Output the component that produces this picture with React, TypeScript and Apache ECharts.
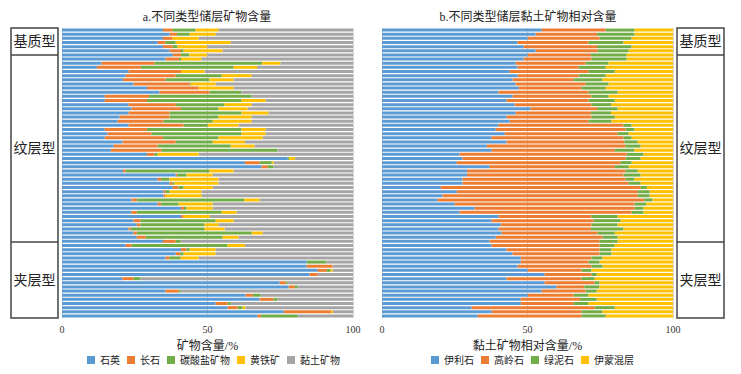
import React, { useEffect, useRef } from "react";
import * as echarts from "echarts";

// Panel a: mineral content (%) per sample, top to bottom
const quartz = [34.7,37.0,34.7,32.9,34.7,37.0,38.1,35.6,13.6,12.0,22.9,21.9,21.0,24.6,29.2,33.5,14.7,14.7,22.9,23.9,22.9,19.8,19.1,22.9,14.7,15.7,14.7,20.8,17.8,16.8,29.2,77.6,62.9,68.6,21.0,39.1,32.9,37.0,38.1,34.9,34.9,23.9,32.9,40.9,23.9,40.9,24.6,25.7,22.9,24.6,25.7,34.7,21.9,40.9,39.1,35.6,84.1,84.1,87.9,85.1,20.8,74.8,77.9,35.6,63.1,67.9,52.8,56.9,76.2,67.2];
const feldspar = [3.3,2.5,3.3,2.7,3.4,3.9,2.8,4.6,18.2,15.1,18.0,17.2,14.6,19.3,17.8,17.2,15.2,14.5,16.2,17.0,14.1,17.2,15.8,18.9,14.5,15.1,20.0,18.3,15.1,17.4,2.6,0,5.0,2.1,0.9,0.5,1.1,1.0,1.9,0.7,0.7,1.8,1.1,1.0,1.8,0.9,2.4,1.3,0.7,1.1,3.1,4.4,2.0,1.9,1.5,1.4,0,8.9,3.1,2.8,3.8,2.1,2.1,4.5,2.5,4.8,4.1,3.5,16.2,1.2];
const carbonate = [7.9,4.4,0,3.5,1.6,0.9,2.9,0.7,37.0,31.9,0,15.8,15.1,0.4,0,10.9,35.3,32.5,16.8,12.9,24.7,16.8,16.9,8.3,32.5,30.9,19.1,12.7,25.1,39.9,1.1,0.5,4.2,2.0,28.8,3.2,3.0,0.7,1.8,1.4,0,37.0,6.1,0.9,29.2,0,25.8,22.0,25.4,39.5,26.4,1.7,33.0,1.1,1.2,3.8,6.7,0,1.3,0,2.4,0.5,1.0,0.7,2.7,1.4,1.1,1.7,0,12.6];
const pyrite = [7.9,8.9,9.0,18.9,10.2,13.4,6.1,7.1,6.3,8.0,8.1,10.3,8.3,8.5,12.0,0,0,8.3,9.3,10.0,9.3,11.4,13.4,10.6,8.3,8.3,15.2,11.1,8.2,0,14.1,2.0,0.6,0,8.3,9.0,16.8,15.1,10.0,11.0,12.4,5.2,11.7,9.0,5.1,9.0,6.2,4.8,6.9,3.8,5.5,0,6.0,8.9,11.0,6.2,0,0,0.7,0,0,0,0,0,0,0,0,1.0,0.7,0];
const clay = [46.2,47.2,53.0,42.0,50.1,44.8,50.1,52.0,24.9,33.0,51.0,34.8,41.0,47.2,41.0,38.4,34.8,30.0,34.8,36.2,29.0,34.8,34.8,39.3,30.0,30.0,31.0,37.1,33.8,25.9,53.0,19.9,27.3,27.3,41.0,48.2,46.2,46.2,48.2,52.0,52.0,32.1,48.2,48.2,40.0,49.2,41.0,46.2,44.1,31.0,39.3,59.2,37.1,47.2,47.2,53.0,9.2,7.0,7.0,12.1,73.0,22.6,19.0,59.2,31.7,25.9,42.0,36.9,6.9,19.0];

// Panel b: relative clay mineral content (%)
const illite = [54.9,52.8,50.1,46.6,48.7,52.8,50.1,48.7,45.9,46.6,43.9,46.6,44.9,45.9,47.0,40.1,44.9,42.8,45.6,51.1,45.9,42.8,43.9,40.1,39.1,42.2,37.7,42.8,36.0,37.7,26.7,27.7,25.7,37.0,29.2,29.2,27.7,27.7,20.2,25.7,20.8,19.1,25.0,31.8,26.7,40.1,37.7,40.8,40.1,41.1,39.1,37.0,37.7,42.8,44.9,47.7,47.7,46.6,50.1,55.9,42.8,55.9,60.0,54.9,50.1,47.7,47.7,30.8,37.7,32.9];
const kaolinite = [22.0,21.1,24.7,24.4,25.2,21.3,21.7,23.3,24.1,21.0,27.1,21.0,21.0,24.1,21.6,30.9,27.1,28.2,26.4,22.8,25.9,29.2,27.1,42.9,44.6,38.8,45.3,40.5,47.7,42.3,57.4,56.0,56.3,43.0,54.5,53.8,56.0,57.1,68.7,62.2,67.1,71.0,61.8,55.0,59.1,31.9,35.0,31.2,31.7,33.0,36.7,37.8,37.1,32.0,29.9,24.3,23.3,25.4,18.5,16.1,25.8,17.2,9.5,15.1,15.8,20.3,18.2,42.3,30.9,35.7];
const chlorite = [9.9,12.9,11.0,12.0,11.9,10.7,12.3,12.1,7.9,9.3,9.0,9.3,9.9,7.9,8.3,10.0,5.9,9.0,6.9,7.1,6.9,8.0,7.9,2.8,3.1,3.8,2.8,4.6,5.2,6.8,5.8,5.2,3.8,4.8,4.2,5.9,3.1,4.1,2.1,4.1,4.1,2.9,4.0,3.1,4.1,9.0,9.3,9.0,11.2,5.9,5.2,6.2,5.2,4.1,4.1,3.8,3.8,3.8,3.4,1.8,4.5,1.7,5.2,3.8,5.1,5.8,5.1,6.9,7.2,8.3];
const mixedLayer = [13.2,13.2,14.2,17.0,14.2,15.2,15.9,15.9,22.1,23.1,20.0,23.1,24.2,22.1,23.1,19.0,22.1,20.0,21.1,19.0,21.3,20.0,21.1,14.2,13.2,15.2,14.2,12.1,11.1,13.2,10.1,11.1,14.2,15.2,12.1,11.1,13.2,11.1,9.0,8.0,8.0,7.0,9.2,10.1,10.1,19.0,18.0,19.0,17.0,20.0,19.0,19.0,20.0,21.1,21.1,24.2,25.2,24.2,28.0,26.2,26.9,25.2,25.3,26.2,29.0,26.2,29.0,20.0,24.2,23.1];

const samples = quartz.map((_, i) => "S" + (i + 1));
const xTicks = [0, 50, 100];

const namesA = ["石英", "长石", "碳酸盐矿物", "黄铁矿", "黏土矿物"];
const namesB = ["伊利石", "高岭石", "绿泥石", "伊蒙混层"];
const colors = ["#5B9BD5", "#ED7D31", "#70AD47", "#FFC000", "#A5A5A5"];

const groups = [
  { name: "基质型", y0: 28, y1: 55 },
  { name: "纹层型", y0: 55, y1: 242 },
  { name: "夹层型", y0: 242, y1: 318 },
];

const CJK = "'Liberation Serif', 'Noto Sans CJK SC', serif";

export default function App() {
  const ref = useRef<HTMLDivElement>(null);
  useEffect(() => {
    if (!ref.current) return;
    const chart = echarts.init(ref.current, undefined, { renderer: "svg" });
    const dataA = [quartz, feldspar, carbonate, pyrite, clay];
    const dataB = [illite, kaolinite, chlorite, mixedLayer];

    const xAxisBase = (gridIndex: number, name: string) => ({
      type: "value",
      gridIndex,
      min: 0,
      max: 100,
      interval: 50,
      name,
      nameLocation: "middle",
      nameGap: 22,
      nameTextStyle: { fontSize: 12, color: "#222", fontFamily: CJK },
      axisLine: { show: false },
      axisTick: { show: false },
      axisLabel: {
        fontSize: 10,
        color: "#333",
        fontFamily: CJK,
        margin: 6,
        formatter: (v: number) => (xTicks.includes(v) ? String(v) : ""),
      },
      splitLine: { show: true, lineStyle: { color: "#d4d4d4", width: 1 } },
    });
    const yAxisBase = (gridIndex: number) => ({
      type: "category",
      gridIndex,
      data: samples,
      inverse: true,
      axisLine: { show: false },
      axisTick: { show: false },
      axisLabel: { show: false },
      splitLine: { show: false },
    });

    const series: any[] = [];
    namesA.forEach((n, i) =>
      series.push({
        name: n,
        type: "bar",
        stack: "a",
        xAxisIndex: 0,
        yAxisIndex: 0,
        data: dataA[i],
        barCategoryGap: "28%",
        itemStyle: { color: colors[i] },
      })
    );
    namesB.forEach((n, i) =>
      series.push({
        name: n,
        type: "bar",
        stack: "b",
        xAxisIndex: 1,
        yAxisIndex: 1,
        data: dataB[i],
        barCategoryGap: "28%",
        itemStyle: { color: colors[i] },
      })
    );

    const graphics: any[] = [];
    const boxes = [11, 677];
    boxes.forEach((bx) => {
      graphics.push({
        type: "rect",
        shape: { x: bx, y: 28, width: 47, height: 290 },
        style: { fill: "none", stroke: "#444", lineWidth: 1.5 },
      });
      groups.forEach((g, gi) => {
        if (gi > 0)
          graphics.push({
            type: "line",
            shape: { x1: bx, y1: g.y0, x2: bx + 47, y2: g.y0 },
            style: { stroke: "#444", lineWidth: 1.5 },
          });
        graphics.push({
          type: "text",
          x: bx + 23.5,
          y: (g.y0 + g.y1) / 2,
          style: {
            text: g.name,
            fontSize: 14,
            fontFamily: CJK,
            fill: "#222",
            align: "center",
            verticalAlign: "middle",
          },
        });
      });
    });
    graphics.push({
      type: "text",
      x: 207,
      y: 17,
      style: { text: "a.不同类型储层矿物含量", fontSize: 12, fontFamily: CJK, fill: "#222", align: "center", verticalAlign: "middle" },
    });
    graphics.push({
      type: "text",
      x: 528,
      y: 17,
      style: { text: "b.不同类型储层黏土矿物相对含量", fontSize: 12, fontFamily: CJK, fill: "#222", align: "center", verticalAlign: "middle" },
    });

    chart.setOption({
      animation: false,
      backgroundColor: "#fff",
      grid: [
        { left: 62, top: 28, width: 291, height: 290 },
        { left: 382, top: 28, width: 291, height: 290 },
      ],
      xAxis: [xAxisBase(0, "矿物含量/%"), xAxisBase(1, "黏土矿物相对含量/%")],
      yAxis: [yAxisBase(0), yAxisBase(1)],
      legend: [
        {
          data: namesA,
          left: 82,
          top: 350,
          itemWidth: 8,
          itemHeight: 8,
          itemGap: 7,
          icon: "rect",
          textStyle: { fontSize: 10, color: "#222", fontFamily: CJK },
        },
        {
          data: namesB,
          left: 426,
          top: 350,
          itemWidth: 8,
          itemHeight: 8,
          itemGap: 7,
          icon: "rect",
          textStyle: { fontSize: 10, color: "#222", fontFamily: CJK },
        },
      ],
      series,
      graphic: graphics,
    });
    return () => chart.dispose();
  }, []);
  return (
    <div
      ref={ref}
      style={{ position: "absolute", left: 0, top: 0, width: 741, height: 374 }}
    />
  );
}
